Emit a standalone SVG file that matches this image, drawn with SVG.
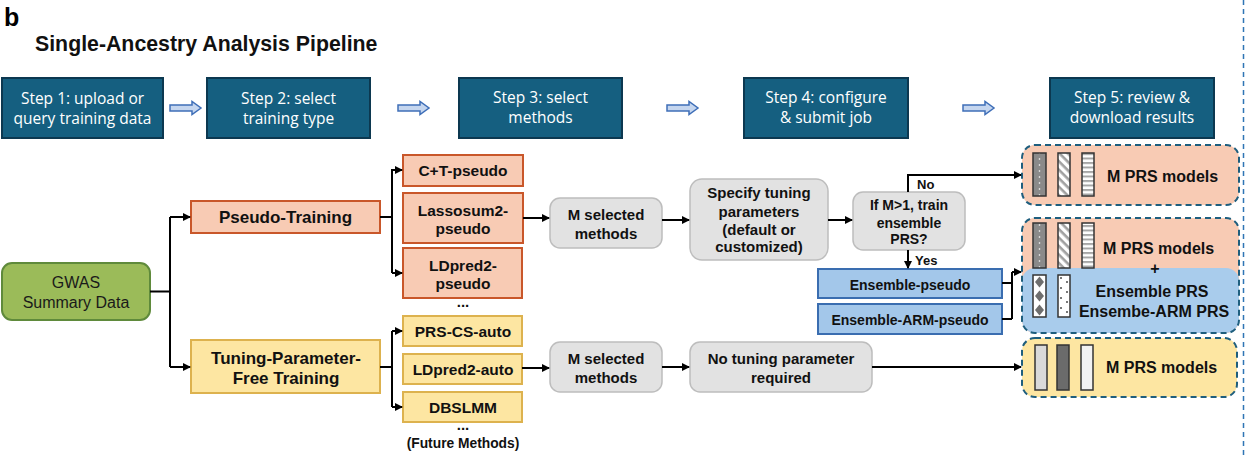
<svg xmlns="http://www.w3.org/2000/svg" width="1247" height="457" viewBox="0 0 1247 457">
  <style>
    .step rect { fill: #155F80; stroke: #0C3850; stroke-width: 2; }
    .step text { fill: #FFFFFF; font-family: "Open Sans", "Noto Sans", sans-serif; font-size: 15.5px; text-anchor: middle; }
    .b { font-family: "Liberation Sans", Arial, sans-serif; font-weight: bold; fill: #111; text-anchor: middle; }
    .r { font-family: "Liberation Sans", Arial, sans-serif; fill: #1a1a1a; text-anchor: middle; }
    .salmon { fill: #F8CBB4; stroke: #C9572A; stroke-width: 2; }
    .yellow { fill: #FDE6A2; stroke: #DDB24E; stroke-width: 2; }
    .gray { fill: #E2E2E2; stroke: #BDBDBD; stroke-width: 1.5; }
    .blue { fill: #A3C7EA; stroke: #3A6DB0; stroke-width: 2; }
    .green { fill: #9BBB59; stroke: #5F8A3B; stroke-width: 2; }
    .wire { fill: none; stroke: #000; stroke-width: 2; }
    .arrow { marker-end: url(#head); }
    .dash { fill: none; stroke: #1E5E7E; stroke-width: 2; stroke-dasharray: 6 4; }
    .bar { stroke: #333; stroke-width: 1.5; }
  </style>
  <defs>
    <marker id="head" markerWidth="8" markerHeight="8" refX="7" refY="4" orient="auto" markerUnits="userSpaceOnUse">
      <path d="M0,0 L8,4 L0,8 Z" fill="#000"/>
    </marker>
    <path id="blockArrow" d="M0,-3 H22 V-6.5 L31,0 L22,6.5 V3 H0 Z" fill="#C5D6EF" stroke="#3F6FB8" stroke-width="1.5"/>
    <pattern id="pDots" patternUnits="userSpaceOnUse" x="1033" y="0" width="13" height="6">
      <rect width="13" height="6" fill="#8A8A8A"/>
      <circle cx="6.5" cy="3" r="0.8" fill="#FFF"/>
    </pattern>
    <pattern id="pDiag" patternUnits="userSpaceOnUse" width="6" height="6" patternTransform="rotate(45)">
      <rect width="6" height="6" fill="#FFF"/>
      <rect width="6" height="2.6" fill="#A0A0A0"/>
    </pattern>
    <pattern id="pHoriz" patternUnits="userSpaceOnUse" width="12" height="4.5">
      <rect width="12" height="4.5" fill="#FFF"/>
      <rect width="12" height="2" fill="#A6A6A6"/>
    </pattern>
    <pattern id="pDiamond" patternUnits="userSpaceOnUse" x="1033" y="275" width="13" height="14">
      <rect width="13" height="14" fill="#FFF"/>
      <path d="M6.5,1.5 L11,7 L6.5,12.5 L2,7 Z" fill="#6E6E6E"/>
    </pattern>
    <pattern id="pSpeck" patternUnits="userSpaceOnUse" x="1058" y="275" width="12" height="10">
      <rect width="12" height="10" fill="#FFF"/>
      <path d="M2,2 l2,2 M4,2 l-2,2 M8,6 l2,2 M10,6 l-2,2" stroke="#555" stroke-width="0.8"/>
    </pattern>
    <clipPath id="clip2">
      <rect x="1022" y="218" width="217" height="115" rx="13"/>
    </clipPath>
  </defs>

  <!-- panel letter and heading -->
  <text x="4" y="26" font-family="Liberation Sans, Arial, sans-serif" font-weight="bold" font-size="25" fill="#000">b</text>
  <text x="35" y="51" font-family="Liberation Sans, Arial, sans-serif" font-weight="bold" font-size="21.3" fill="#111">Single-Ancestry Analysis Pipeline</text>

  <!-- dashed separator on the right edge -->
  <line x1="1243.5" y1="0" x2="1243.5" y2="457" stroke="#2F75B5" stroke-width="1.5" stroke-dasharray="5 4"/>

  <!-- workflow steps -->
  <g id="step1" class="step"><rect x="2" y="78" width="161" height="60"/><text x="82.5" y="104">Step 1: upload or</text><text x="82.5" y="124">query training data</text></g>
  <g id="step2" class="step"><rect x="207" y="78" width="163" height="60"/><text x="288.5" y="104">Step 2: select</text><text x="288.5" y="124">training type</text></g>
  <g id="step3" class="step"><rect x="459" y="78" width="163" height="60"/><text x="540.5" y="103">Step 3: select</text><text x="540.5" y="123">methods</text></g>
  <g id="step4" class="step"><rect x="744" y="78" width="164" height="60"/><text x="826" y="103">Step 4: configure</text><text x="826" y="123">&amp; submit job</text></g>
  <g id="step5" class="step"><rect x="1050" y="78" width="164" height="60"/><text x="1132" y="103">Step 5: review &amp;</text><text x="1132" y="123">download results</text></g>

  <g id="step-arrows">
    <use href="#blockArrow" x="170" y="108"/>
    <use href="#blockArrow" x="398" y="108"/>
    <use href="#blockArrow" x="667" y="108"/>
    <use href="#blockArrow" x="963" y="108"/>
  </g>

  <!-- source -->
  <g id="gwas">
    <rect class="green" x="2" y="263" width="148" height="57" rx="10"/>
    <text class="r" x="76" y="288" font-size="16">GWAS</text>
    <text class="r" x="76" y="308" font-size="16">Summary Data</text>
  </g>

  <!-- training types -->
  <g id="pseudo-training">
    <rect class="salmon" x="191" y="201" width="189" height="32"/>
    <text class="b" x="285.5" y="223" font-size="17">Pseudo-Training</text>
  </g>
  <g id="tpf-training">
    <rect class="yellow" x="191" y="340" width="189" height="53"/>
    <text class="b" x="286" y="364" font-size="17">Tuning-Parameter-</text>
    <text class="b" x="286" y="384" font-size="17">Free Training</text>
  </g>

  <!-- pseudo methods -->
  <g id="ct-pseudo"><rect class="salmon" x="403" y="155" width="120" height="31"/><text class="b" x="463" y="176" font-size="15.5">C+T-pseudo</text></g>
  <g id="lassosum2-pseudo"><rect class="salmon" x="403" y="193" width="120" height="50"/><text class="b" x="463" y="215.5" font-size="15.5">Lassosum2-</text><text class="b" x="463" y="234" font-size="15.5">pseudo</text></g>
  <g id="ldpred2-pseudo"><rect class="salmon" x="403" y="248" width="119" height="50"/><text class="b" x="463" y="270.5" font-size="15.5">LDpred2-</text><text class="b" x="463" y="289" font-size="15.5">pseudo</text></g>
  <text class="b" x="463" y="307" font-size="15">...</text>

  <!-- tuning-parameter-free methods -->
  <g id="prs-cs-auto"><rect class="yellow" x="403" y="316" width="119" height="30"/><text class="b" x="463" y="336.5" font-size="15.5">PRS-CS-auto</text></g>
  <g id="ldpred2-auto"><rect class="yellow" x="403" y="354" width="119" height="30"/><text class="b" x="463" y="374.5" font-size="15.5">LDpred2-auto</text></g>
  <g id="dbslmm"><rect class="yellow" x="403" y="392" width="119" height="30"/><text class="b" x="463" y="412.5" font-size="15.5">DBSLMM</text></g>
  <text class="b" x="463" y="430" font-size="15">...</text>
  <text class="b" x="463" y="448" font-size="13.8">(Future Methods)</text>

  <!-- selection and tuning -->
  <g id="m-selected-top"><rect class="gray" x="550" y="198" width="112" height="50" rx="10"/><text class="b" x="606" y="219.5" font-size="15">M selected</text><text class="b" x="606" y="238.5" font-size="15">methods</text></g>
  <g id="specify-tuning"><rect class="gray" x="690" y="179" width="138" height="81" rx="12"/>
    <text class="b" x="759" y="198" font-size="15">Specify tuning</text>
    <text class="b" x="759" y="217" font-size="15">parameters</text>
    <text class="b" x="759" y="234.5" font-size="15">(default or</text>
    <text class="b" x="759" y="252" font-size="15">customized)</text>
  </g>
  <g id="m-selected-bottom"><rect class="gray" x="550" y="342" width="112" height="50" rx="10"/><text class="b" x="606" y="364" font-size="15">M selected</text><text class="b" x="606" y="383" font-size="15">methods</text></g>
  <g id="no-tuning"><rect class="gray" x="690" y="342" width="182" height="50" rx="10"/><text class="b" x="781" y="364" font-size="15">No tuning parameter</text><text class="b" x="781" y="383" font-size="15">required</text></g>

  <!-- ensemble decision -->
  <g id="decision"><rect class="gray" x="853" y="192" width="112" height="58" rx="10"/>
    <text class="b" x="909" y="210" font-size="14">If M&gt;1, train</text>
    <text class="b" x="909" y="228" font-size="14">ensemble</text>
    <text class="b" x="909" y="243.5" font-size="14">PRS?</text>
  </g>
  <g id="ensemble-pseudo"><rect class="blue" x="818" y="269" width="184" height="29"/><text class="b" x="910" y="289.5" font-size="14">Ensemble-pseudo</text></g>
  <g id="ensemble-arm-pseudo"><rect class="blue" x="818" y="304" width="184" height="30"/><text class="b" x="910" y="325" font-size="14">Ensemble-ARM-pseudo</text></g>

  <!-- outputs -->
  <g id="out-models">
    <rect x="1022" y="145" width="217" height="60" rx="13" fill="#F8CBB4"/>
    <rect x="1022" y="145" width="217" height="60" rx="13" class="dash"/>
    <rect class="bar" x="1033" y="153" width="13" height="43" fill="url(#pDots)"/>
    <rect class="bar" x="1058" y="153" width="12" height="43" fill="url(#pDiag)"/>
    <rect class="bar" x="1082" y="153" width="12" height="43" fill="url(#pHoriz)"/>
    <text class="b" x="1107" y="181.5" font-size="16" style="text-anchor:start">M PRS models</text>
  </g>
  <g id="out-ensemble">
    <g clip-path="url(#clip2)">
      <rect x="1022" y="218" width="217" height="115" fill="#F8CBB4"/>
      <rect x="1022" y="268" width="217" height="65" rx="13" fill="#A9CCEC"/>
    </g>
    <rect x="1022" y="218" width="217" height="115" rx="13" class="dash"/>
    <rect class="bar" x="1033" y="223" width="13" height="45" fill="url(#pDots)"/>
    <rect class="bar" x="1058" y="223" width="12" height="45" fill="url(#pDiag)"/>
    <rect class="bar" x="1082" y="223" width="12" height="45" fill="url(#pHoriz)"/>
    <rect class="bar" x="1033" y="275" width="13" height="42" fill="url(#pDiamond)"/>
    <rect class="bar" x="1058" y="275" width="12" height="42" fill="url(#pSpeck)"/>
    <text class="b" x="1103" y="254" font-size="16" style="text-anchor:start">M PRS models</text>
    <text class="b" x="1155" y="273.5" font-size="16">+</text>
    <text class="b" x="1152" y="297" font-size="16">Ensemble PRS</text>
    <text class="b" x="1154" y="317" font-size="16">Ensembe-ARM PRS</text>
  </g>
  <g id="out-tpf-models">
    <rect x="1022" y="338" width="215" height="59" rx="13" fill="#FDE6A2"/>
    <rect x="1022" y="338" width="215" height="59" rx="13" class="dash"/>
    <rect class="bar" x="1035" y="345" width="12" height="45" fill="#D9D9D9"/>
    <rect class="bar" x="1057" y="345" width="12" height="45" fill="#6B6B6B"/>
    <rect class="bar" x="1081" y="345" width="12" height="45" fill="#F2F2F2"/>
    <text class="b" x="1106" y="373" font-size="16" style="text-anchor:start">M PRS models</text>
  </g>

  <!-- connectors -->
  <g id="connectors">
    <path class="wire" d="M150,291.5 H170 M170,217 V367"/>
    <path class="wire arrow" d="M170,217 H190"/>
    <path class="wire arrow" d="M170,367 H190"/>
    <path class="wire" d="M380,217 H392 M392,169 V273"/>
    <path class="wire arrow" d="M392,170 H402"/>
    <path class="wire arrow" d="M392,273 H402"/>
    <path class="wire" d="M380,367 H392 M392,331 V407"/>
    <path class="wire arrow" d="M392,331 H402"/>
    <path class="wire arrow" d="M392,407 H402"/>
    <path class="wire arrow" d="M523,218 H549"/>
    <path class="wire arrow" d="M662,220 H689"/>
    <path class="wire arrow" d="M828,220 H852"/>
    <path class="wire arrow" d="M522,368 H549"/>
    <path class="wire arrow" d="M662,367 H689"/>
    <path class="wire arrow" d="M872,367 H1021" stroke-width="1.5"/>
    <path class="wire arrow" d="M908,192 V175 H1021" stroke-width="1.5"/>
    <path class="wire arrow" d="M908,250 V268"/>
    <path class="wire" d="M1002,283 H1012 M1002,319 H1012 M1012,319 V272"/>
    <path class="wire arrow" d="M1012,272 H1021"/>
    <text class="b" x="917" y="189" font-size="13" style="text-anchor:start">No</text>
    <text class="b" x="915" y="265" font-size="13" style="text-anchor:start">Yes</text>
  </g>
</svg>
